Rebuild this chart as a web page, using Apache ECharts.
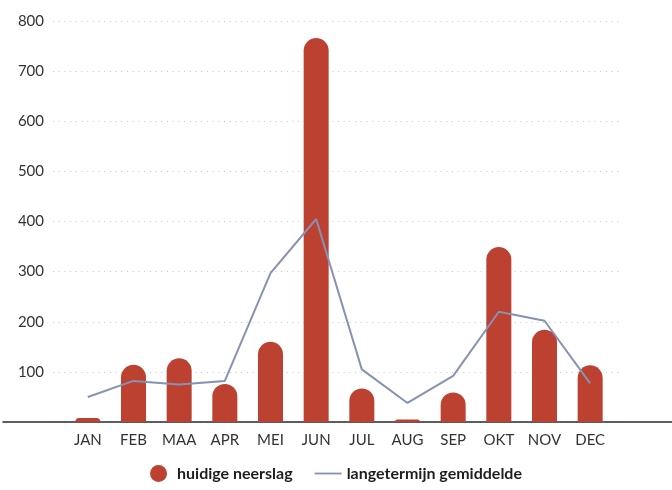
<!DOCTYPE html>
<html>
<head>
<meta charset="utf-8">
<script src="https://cdn.jsdelivr.net/npm/echarts@6/dist/echarts.min.js"></script>
<style>
  html, body { margin: 0; padding: 0; background: #fff; }
  #chart { width: 672px; height: 490px; }
</style>
</head>
<body>
<div id="chart"></div>
<script>
// Monthly precipitation: current values vs long-term average
const months = ['JAN', 'FEB', 'MAA', 'APR', 'MEI', 'JUN', 'JUL', 'AUG', 'SEP', 'OKT', 'NOV', 'DEC'];
const huidigeNeerslag = [8, 114, 127, 76, 160, 766, 67, 5, 59, 349, 184, 113];
const langetermijnGemiddelde = [50, 82, 75, 82, 297, 405, 105, 38, 92, 220, 202, 77];
const yMin = 0;
const yMax = 800;
const yStep = 100;

const FONT = 'Lato';
const TOP = 21;
const BOTTOM = 68;

const chart = echarts.init(document.getElementById('chart'), null, { renderer: 'canvas' });

chart.setOption({
  animation: false,
  textStyle: { fontFamily: FONT },
  grid: [
    // plotting area for bars and line
    { left: 65, right: 59, top: TOP, bottom: BOTTOM },
    // dotted gridlines
    { left: 53, right: 50, top: TOP, bottom: BOTTOM },
    // full-width baseline
    { left: 3, right: 0, top: TOP, bottom: BOTTOM }
  ],
  xAxis: [
    {
      type: 'category', gridIndex: 0, data: months,
      axisLine: { show: false }, axisTick: { show: false },
      axisLabel: { color: '#333', fontSize: 15, margin: 11, fontFamily: FONT }
    },
    { type: 'value', gridIndex: 1, show: false },
    {
      type: 'value', gridIndex: 2, min: 0, max: 1,
      axisLine: { show: true, lineStyle: { color: '#2b2b2b', width: 1.6 } },
      axisTick: { show: false }, axisLabel: { show: false }, splitLine: { show: false }
    }
  ],
  yAxis: [
    {
      type: 'value', gridIndex: 0, min: yMin, max: yMax, interval: yStep,
      axisLine: { show: false }, axisTick: { show: false }, splitLine: { show: false },
      axisLabel: {
        color: '#333', fontSize: 15, margin: 21, fontFamily: FONT,
        formatter: v => (v === 0 ? '' : String(v))
      }
    },
    {
      type: 'value', gridIndex: 1, min: yMin, max: yMax, interval: yStep,
      axisLine: { show: false }, axisTick: { show: false }, axisLabel: { show: false },
      splitLine: { show: true, lineStyle: { color: '#c4c4c4', type: [1, 4.7], width: 1 } }
    },
    { type: 'value', gridIndex: 2, show: false, min: 0, max: 1 }
  ],
  legend: {
    bottom: 3,
    left: 'center',
    itemWidth: 27,
    itemHeight: 17,
    itemGap: 22,
    textStyle: { color: '#1e1e1e', fontSize: 16, fontWeight: 'bold', fontFamily: FONT },
    data: [
      { name: 'huidige neerslag', icon: 'circle' },
      { name: 'langetermijn gemiddelde', icon: 'path://M0,0 H30 V2 H0 Z' }
    ]
  },
  series: [
    {
      name: 'huidige neerslag',
      type: 'bar',
      xAxisIndex: 0, yAxisIndex: 0,
      data: huidigeNeerslag,
      barWidth: 25,
      itemStyle: { color: '#bc4130', borderRadius: [12.5, 12.5, 0, 0] }
    },
    {
      name: 'langetermijn gemiddelde',
      type: 'line',
      xAxisIndex: 0, yAxisIndex: 0,
      data: langetermijnGemiddelde,
      showSymbol: false,
      symbol: 'none',
      itemStyle: { color: '#8791b4' },
      lineStyle: { color: '#8791b4', width: 2 }
    }
  ]
});
</script>
</body>
</html>
